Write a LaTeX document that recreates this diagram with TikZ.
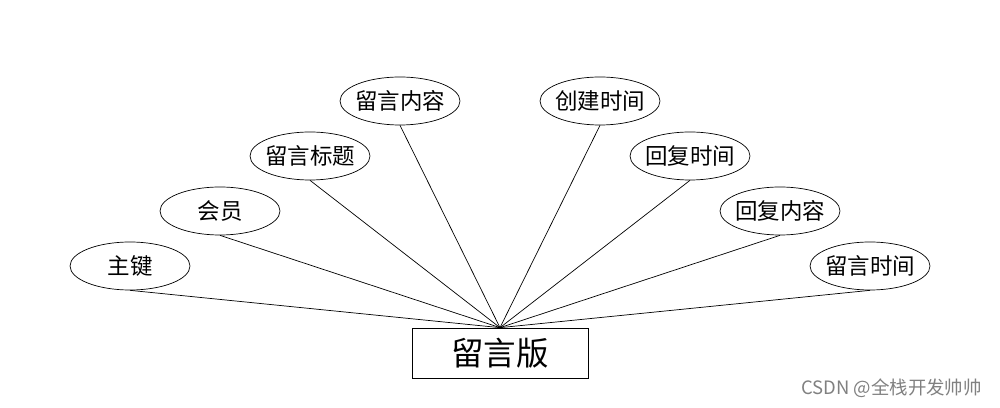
\documentclass[tikz,border=0pt]{standalone}
\usepackage{fontspec}
\setmainfont{Noto Sans CJK SC}
\usepackage{tikz}
\usetikzlibrary{positioning,shapes.geometric}

\newcommand{\attrtext}[1]{\makebox[0pt]{#1}}

\begin{document}
\begin{tikzpicture}[
  x=0.02cm, y=-0.02cm,
  attr/.style={draw, ellipse, inner sep=0pt, minimum width=2.4cm, minimum height=0.96cm,
               font=\fontsize{12.8pt}{14pt}\selectfont},
  entity/.style={draw, rectangle, minimum width=3.52cm, minimum height=1.0cm,
                 font=\fontsize{18.5pt}{20pt}\selectfont},
  link/.style={thin}
]
  \useasboundingbox (0,0) rectangle (1000,408);

  \node[entity] (board) at (500,353) {留言版};

  \node[attr] (key)     at (130,266) {\attrtext{主键}};
  \node[attr] (member)  at (220,211) {\attrtext{会员}};
  \node[attr] (title)   at (310,156) {\attrtext{留言标题}};
  \node[attr] (content) at (400,101) {\attrtext{留言内容}};
  \node[attr] (created) at (600,101) {\attrtext{创建时间}};
  \node[attr] (rtime)   at (690,156) {\attrtext{回复时间}};
  \node[attr] (reply)   at (780,211) {\attrtext{回复内容}};
  \node[attr] (mtime)   at (870,266) {\attrtext{留言时间}};

  \foreach \a in {key,member,title,content,created,rtime,reply,mtime}
    \draw[link] (\a.south) -- (board.north);

  \node[gray, font=\fontsize{10.5pt}{12pt}\selectfont, anchor=east] (mark) at (988,388) {CSDN @全栈开发帅帅};
\end{tikzpicture}
\end{document}
